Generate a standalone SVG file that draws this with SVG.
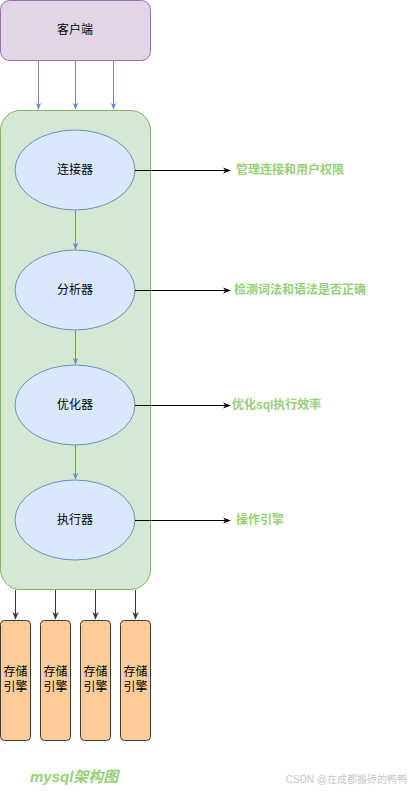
<svg xmlns="http://www.w3.org/2000/svg" width="411" height="791" viewBox="0 0 411 791">
<defs>
<style>
text{font-family:"Liberation Sans","Noto Sans CJK SC",sans-serif;}
.lbl{font-size:12px;fill:#000;text-anchor:middle;dominant-baseline:central;}
.note{font-size:12px;fill:#97d077;font-weight:bold;dominant-baseline:central;}
.ell{fill:#dae8fc;stroke:#6c8ebf;stroke-width:1;}
.se{fill:#ffcc99;stroke:#36393d;stroke-width:1;}
</style>
<marker id="ab" viewBox="0 0 10 10" refX="9" refY="5" markerWidth="7" markerHeight="7" orient="auto" markerUnits="userSpaceOnUse"><path d="M0,1 L10,5 L0,9 L3,5 Z" fill="#6c8ebf"/></marker>
<marker id="ak" viewBox="0 0 10 10" refX="9" refY="5" markerWidth="8" markerHeight="8" orient="auto" markerUnits="userSpaceOnUse"><path d="M0,1 L10,5 L0,9 L3,5 Z" fill="#000"/></marker>
<marker id="ad" viewBox="0 0 10 10" refX="9" refY="5" markerWidth="8" markerHeight="8" orient="auto" markerUnits="userSpaceOnUse"><path d="M0,1 L10,5 L0,9 L3,5 Z" fill="#36393d"/></marker>
</defs>
<rect width="411" height="791" fill="#fff"/>
<g id="client"><rect x="0.5" y="0.5" width="150" height="60" rx="9" fill="#e1d5e7" stroke="#9673a6"/><text class="lbl" x="75" y="30">客户端</text></g>
<g id="server"><rect x="0.5" y="110.5" width="150" height="479" rx="20" fill="#d5e8d4" stroke="#82b366"/></g>
<g id="connector"><ellipse class="ell" cx="75" cy="170" rx="60" ry="40"/><text class="lbl" x="75" y="170">连接器</text></g>
<g id="parser"><ellipse class="ell" cx="75" cy="290" rx="60" ry="40"/><text class="lbl" x="75" y="290">分析器</text></g>
<g id="optimizer"><ellipse class="ell" cx="75" cy="405" rx="60" ry="40"/><text class="lbl" x="75" y="405">优化器</text></g>
<g id="executor"><ellipse class="ell" cx="75" cy="520" rx="60" ry="40"/><text class="lbl" x="75" y="520">执行器</text></g>
<g id="se1"><rect class="se" x="0.5" y="620.5" width="30" height="120" rx="4"/><text class="lbl" x="15.5" y="672">存储</text><text class="lbl" x="15.5" y="687">引擎</text></g>
<g id="se2"><rect class="se" x="40.5" y="620.5" width="30" height="120" rx="4"/><text class="lbl" x="55.5" y="672">存储</text><text class="lbl" x="55.5" y="687">引擎</text></g>
<g id="se3"><rect class="se" x="80.5" y="620.5" width="30" height="120" rx="4"/><text class="lbl" x="95.5" y="672">存储</text><text class="lbl" x="95.5" y="687">引擎</text></g>
<g id="se4"><rect class="se" x="120.5" y="620.5" width="30" height="120" rx="4"/><text class="lbl" x="135.5" y="672">存储</text><text class="lbl" x="135.5" y="687">引擎</text></g>
<g id="notes">
<text class="note" x="236" y="170">管理连接和用户权限</text>
<text class="note" x="234" y="290">检测词法和语法是否正确</text>
<text class="note" x="232" y="405">优化sql执行效率</text>
<text class="note" x="236" y="520">操作引擎</text>
</g>
<g id="connectors" fill="none">
<g stroke="#6c8ebf" stroke-width="1" marker-end="url(#ab)">
<path d="M38.5,61 V109"/><path d="M75.5,61 V109"/><path d="M113.5,61 V109"/>
<path d="M75.5,210 V249"/><path d="M75.5,330 V364"/><path d="M75.5,445 V479"/>
</g>
<g stroke="#000" stroke-width="1" marker-end="url(#ak)">
<path d="M135,170.5 H230"/><path d="M135,290.5 H230"/><path d="M135,405.5 H230"/><path d="M135,520.5 H230"/>
</g>
<g stroke="#36393d" stroke-width="1" marker-end="url(#ad)">
<path d="M15.5,590 V619"/><path d="M55.5,590 V619"/><path d="M95.5,590 V619"/><path d="M135.5,590 V619"/>
</g>
</g>
<text x="30" y="776" font-size="15" font-weight="bold" font-style="italic" fill="#97d077" dominant-baseline="central">mysql架构图</text>
<text x="407" y="779" font-size="10" fill="#c8c8c8" text-anchor="end" dominant-baseline="central">CSDN @在成都搬砖的鸭鸭</text>
</svg>
